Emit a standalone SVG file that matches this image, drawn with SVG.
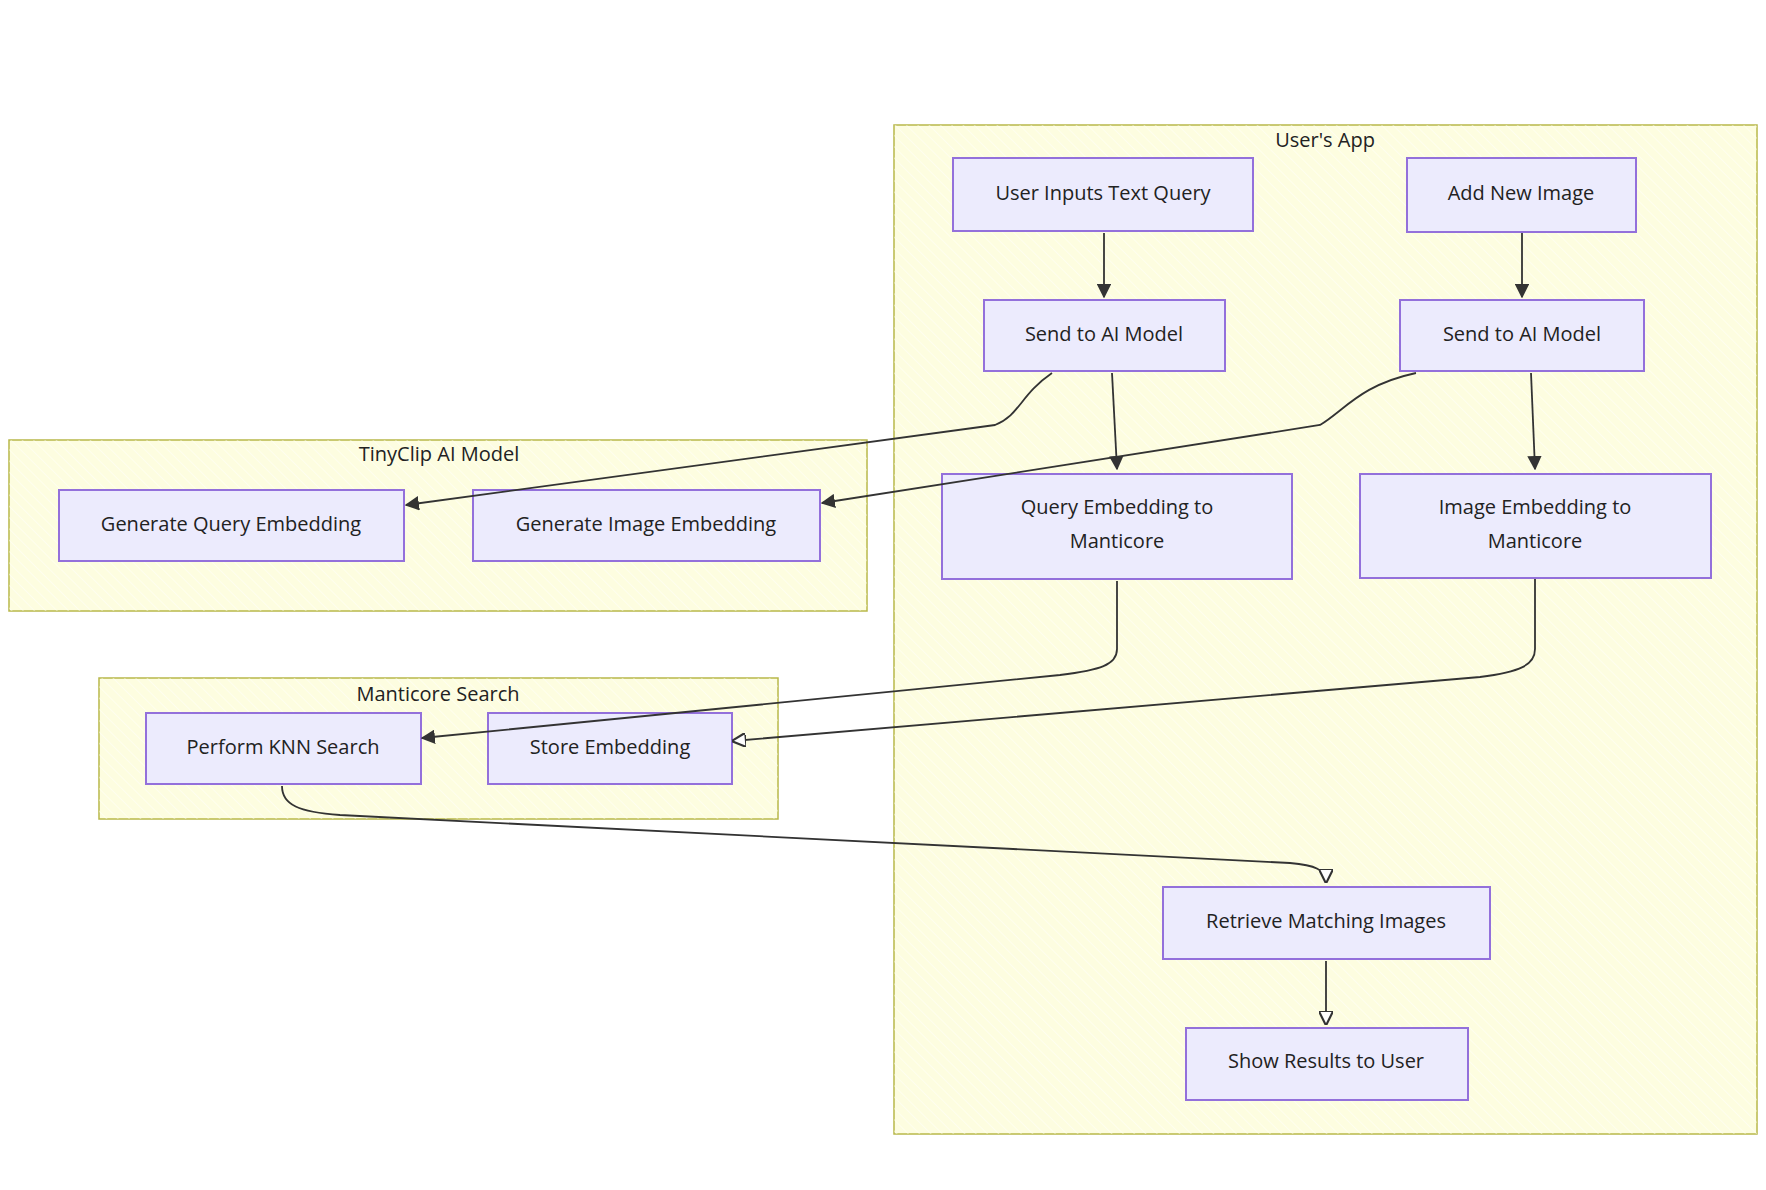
<svg xmlns="http://www.w3.org/2000/svg" width="1766" height="1190" viewBox="0 0 1766 1190">
<style>
.cl{fill:#fdfde0;stroke:#b8b84a;stroke-width:1.5}
.nd{fill:#ecebfd;stroke:#9370db;stroke-width:2}
.t{font-family:"Open Sans","DejaVu Sans",sans-serif;font-size:20px;fill:#222;text-anchor:middle;dominant-baseline:middle}
.e{fill:none;stroke:#333;stroke-width:1.8}
</style>
<defs>
<pattern id="h" width="8" height="8" patternUnits="userSpaceOnUse" patternTransform="rotate(-45)"><line x1="0" y1="0" x2="0" y2="8" stroke="#fff" stroke-width="1.5" opacity="0.6"/></pattern>
<marker id="a" viewBox="0 0 10 10" refX="9" refY="5" markerWidth="8" markerHeight="8" orient="auto-start-reverse"><path d="M0,0L10,5L0,10z" fill="#333"/></marker>
<marker id="o" viewBox="0 0 10 10" refX="9" refY="5" markerWidth="8" markerHeight="8" orient="auto-start-reverse"><path d="M0,0L10,5L0,10z" fill="#fff" stroke="#333" stroke-width="1.5"/></marker>
</defs>
<rect width="1766" height="1190" fill="#fff"/>
<g id="userapp"><rect class="cl" x="894" y="125" width="863" height="1009"/><rect x="894" y="125" width="863" height="1009" fill="url(#h)"/><text class="t" x="1325" y="142">User's App</text></g>
<g id="tinyclip"><rect class="cl" x="9" y="440" width="858" height="171"/><rect x="9" y="440" width="858" height="171" fill="url(#h)"/><text class="t" x="439" y="456">TinyClip AI Model</text></g>
<g id="manticore"><rect class="cl" x="99" y="678" width="679" height="141"/><rect x="99" y="678" width="679" height="141" fill="url(#h)"/><text class="t" x="438" y="696">Manticore Search</text></g>
<g id="n1"><rect class="nd" x="953" y="158" width="300" height="73"/><text class="t" x="1103" y="195">User Inputs Text Query</text></g>
<g id="n2"><rect class="nd" x="1407" y="158" width="229" height="74"/><text class="t" x="1521" y="195">Add New Image</text></g>
<g id="n3"><rect class="nd" x="984" y="300" width="241" height="71"/><text class="t" x="1104" y="336">Send to AI Model</text></g>
<g id="n4"><rect class="nd" x="1400" y="300" width="244" height="71"/><text class="t" x="1522" y="336">Send to AI Model</text></g>
<g id="n5"><rect class="nd" x="942" y="474" width="350" height="105"/><text class="t" x="1117" y="509">Query Embedding to</text><text class="t" x="1117" y="543">Manticore</text></g>
<g id="n6"><rect class="nd" x="1360" y="474" width="351" height="104"/><text class="t" x="1535" y="509">Image Embedding to</text><text class="t" x="1535" y="543">Manticore</text></g>
<g id="n7"><rect class="nd" x="59" y="490" width="345" height="71"/><text class="t" x="231" y="526">Generate Query Embedding</text></g>
<g id="n8"><rect class="nd" x="473" y="490" width="347" height="71"/><text class="t" x="646" y="526">Generate Image Embedding</text></g>
<g id="n9"><rect class="nd" x="146" y="713" width="275" height="71"/><text class="t" x="283" y="749">Perform KNN Search</text></g>
<g id="n10"><rect class="nd" x="488" y="713" width="244" height="71"/><text class="t" x="610" y="749">Store Embedding</text></g>
<g id="n11"><rect class="nd" x="1163" y="887" width="327" height="72"/><text class="t" x="1326" y="923">Retrieve Matching Images</text></g>
<g id="n12"><rect class="nd" x="1186" y="1028" width="282" height="72"/><text class="t" x="1326" y="1063">Show Results to User</text></g>
<g id="edges">
<path class="e" d="M1104,233L1104,297" marker-end="url(#a)"/>
<path class="e" d="M1522,233L1522,297" marker-end="url(#a)"/>
<path class="e" d="M1052,373C1020,395 1020,415 995,425L406,505" marker-end="url(#a)"/>
<path class="e" d="M1112,373L1117,469" marker-end="url(#a)"/>
<path class="e" d="M1416,373C1360,385 1345,410 1320,425L822,503" marker-end="url(#a)"/>
<path class="e" d="M1531,373L1535,469" marker-end="url(#a)"/>
<path class="e" d="M1117,581L1117,649C1117,665 1100,670 1060,675L422,738" marker-end="url(#a)"/>
<path class="e" d="M1535,579L1535,649C1535,665 1520,672 1480,677L733,741" marker-end="url(#o)"/>
<path class="e" d="M282,786C282,805 299,812 340,815L1290,863C1315,865 1326,870 1326,882" marker-end="url(#o)"/>
<path class="e" d="M1326,961L1326,1024" marker-end="url(#o)"/>
</g>
</svg>
